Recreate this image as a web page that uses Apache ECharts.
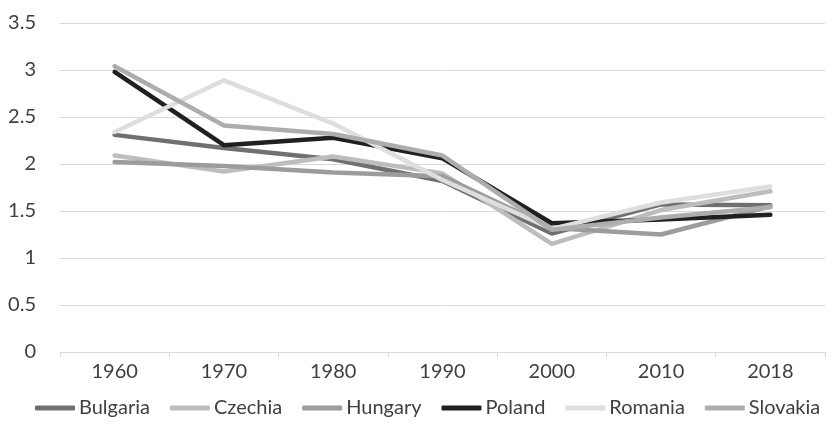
<!DOCTYPE html>
<html>
<head>
<meta charset="utf-8">
<script src="https://cdn.jsdelivr.net/npm/echarts@6/dist/echarts.min.js"></script>
<style>html,body{margin:0;padding:0;background:#fff}#c{width:833px;height:424px}</style>
</head>
<body>
<div id="c"></div>
<script>
const years = ['1960','1970','1980','1990','2000','2010','2018'];
const bulgaria = [2.31, 2.17, 2.05, 1.82, 1.26, 1.57, 1.56];
const czechia  = [2.09, 1.92, 2.08, 1.90, 1.15, 1.51, 1.71];
const hungary  = [2.02, 1.98, 1.91, 1.87, 1.32, 1.25, 1.55];
const poland   = [2.98, 2.20, 2.28, 2.06, 1.37, 1.41, 1.46];
const romania  = [2.34, 2.89, 2.43, 1.83, 1.31, 1.59, 1.76];
const slovakia = [3.04, 2.41, 2.32, 2.09, 1.30, 1.43, 1.54];
const yTicks = [0, 0.5, 1, 1.5, 2, 2.5, 3, 3.5];

const names = ['Bulgaria','Czechia','Hungary','Poland','Romania','Slovakia'];
const datas = [bulgaria, czechia, hungary, poland, romania, slovakia];
const colors = ['#707070','#bdbdbd','#9c9c9c','#221f20','#dedede','#adadad'];
const font = 'Lato, "Liberation Sans", sans-serif';

const chart = echarts.init(document.getElementById('c'), null, {renderer:'canvas'});
chart.setOption({
  animation: false,
  backgroundColor: '#fff',
  grid: {left: 60, right: 8, top: 23, bottom: 72, containLabel: false},
  legend: {
    bottom: 1, left: 30,
    icon: 'roundRect', itemWidth: 40, itemHeight: 5, itemGap: 20,
    textStyle: {color: '#404040', fontSize: 20, fontFamily: font, padding: [0,0,0,-1]},
    data: names
  },
  xAxis: {
    type: 'category', data: years, boundaryGap: true,
    axisLine: {lineStyle: {color: '#d9d9d9', width: 1}},
    axisTick: {show: true, length: 5, lineStyle: {color: '#d9d9d9'}},
    axisLabel: {color: '#404040', fontSize: 20, fontFamily: font, margin: 10}
  },
  yAxis: {
    type: 'value', min: yTicks[0], max: yTicks[yTicks.length-1], interval: 0.5,
    axisLine: {show: false}, axisTick: {show: false},
    splitLine: {lineStyle: {color: '#d9d9d9', width: 1}},
    axisLabel: {color: '#404040', fontSize: 20, fontFamily: font, margin: 24,
      formatter: v => String(v)}
  },
  series: names.map((n,i) => ({
    name: n, type: 'line', data: datas[i], symbol: 'none',
    color: colors[i],
    lineStyle: {color: colors[i], width: 4.5, cap: 'round', join: 'round'}
  }))
});
</script>
</body>
</html>
